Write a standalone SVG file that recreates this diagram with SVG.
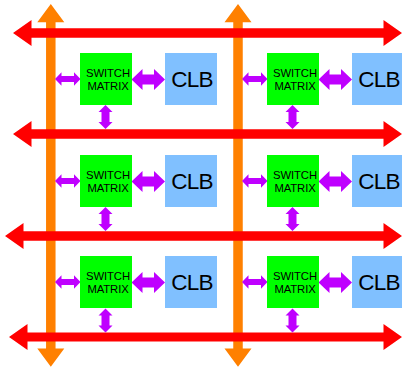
<svg xmlns="http://www.w3.org/2000/svg" xmlns:xlink="http://www.w3.org/1999/xlink" width="403" height="372" viewBox="0 0 403 372">
<style>
.vbus{fill:#ff8000}
.hbus{fill:#ff0000}
.conn{fill:#bf00ff}
.sm{fill:#00ff00}
.clb{fill:#80c0ff}
.smt{font-family:"Liberation Sans",Arial,sans-serif;font-size:11.3px;letter-spacing:-0.1px;fill:#000;text-anchor:middle}
.clbt{font-family:"Liberation Sans",Arial,sans-serif;font-size:22.5px;letter-spacing:-0.8px;fill:#000;text-anchor:middle}
</style>
<defs>
<path id="aL" d="M0,0 L6.5,-6.7 L6.5,-3 L19,-3 L19,-6.7 L25.5,0 L19,6.7 L19,3 L6.5,3 L6.5,6.7 Z"/>
<path id="aR" d="M0,0 L11,-10.5 L11,-5 L22.5,-5 L22.5,-10.5 L33.5,0 L22.5,10.5 L22.5,5 L11,5 L11,10.5 Z"/>
<path id="aV" d="M0,0 L7,7 L4,7 L4,17 L7,17 L0,24 L-7,17 L-4,17 L-4,7 L-7,7 Z"/>
</defs>
<g id="buses">
<polygon class="vbus" points="50.8,4 64.3,22.3 55.55,22.3 55.55,348.5 64.3,348.5 50.8,366.7 37.3,348.5 46.05,348.5 46.05,22.3 37.3,22.3"/>
<polygon class="vbus" points="238,4 251.5,22.3 242.75,22.3 242.75,348.5 251.5,348.5 238,366.7 224.5,348.5 233.25,348.5 233.25,22.3 224.5,22.3"/>
<polygon class="hbus" points="13,33 31.5,20 31.5,28.25 383.5,28.25 383.5,20 402,33 383.5,46 383.5,37.75 31.5,37.75 31.5,46"/>
<polygon class="hbus" points="13,134 31.5,121 31.5,129.25 383.5,129.25 383.5,121 402,134 383.5,147 383.5,138.75 31.5,138.75 31.5,147"/>
<polygon class="hbus" points="5,236 23.5,223 23.5,231.25 383.5,231.25 383.5,223 402,236 383.5,249 383.5,240.75 23.5,240.75 23.5,249"/>
<polygon class="hbus" points="9,337 27.5,324 27.5,332.5 383.5,332.5 383.5,324 402,337 383.5,350 383.5,341.5 27.5,341.5 27.5,350"/>
</g>
<g id="connectors">
<use xlink:href="#aL" class="conn" x="55" y="79"/>
<use xlink:href="#aR" class="conn" x="131.5" y="79.5"/>
<use xlink:href="#aV" class="conn" x="105.5" y="105"/>
<use xlink:href="#aL" class="conn" x="242" y="79"/>
<use xlink:href="#aR" class="conn" x="318.5" y="79.5"/>
<use xlink:href="#aV" class="conn" x="292.5" y="105"/>
<use xlink:href="#aL" class="conn" x="55" y="181"/>
<use xlink:href="#aR" class="conn" x="131.5" y="181.5"/>
<use xlink:href="#aV" class="conn" x="105.5" y="207"/>
<use xlink:href="#aL" class="conn" x="242" y="181"/>
<use xlink:href="#aR" class="conn" x="318.5" y="181.5"/>
<use xlink:href="#aV" class="conn" x="292.5" y="207"/>
<use xlink:href="#aL" class="conn" x="55" y="282"/>
<use xlink:href="#aR" class="conn" x="131.5" y="282.5"/>
<use xlink:href="#aV" class="conn" x="105.5" y="308.5"/>
<use xlink:href="#aL" class="conn" x="242" y="282"/>
<use xlink:href="#aR" class="conn" x="318.5" y="282.5"/>
<use xlink:href="#aV" class="conn" x="292.5" y="308.5"/>
</g>
<g id="sm-r1c1"><rect class="sm" x="80" y="53" width="52" height="52"/><text class="smt" x="108" y="77">SWITCH</text><text class="smt" x="108" y="89.5">MATRIX</text></g>
<g id="clb-r1c1"><rect class="clb" x="165" y="53" width="52" height="52"/><text class="clbt" x="192" y="87">CLB</text></g>
<g id="sm-r1c2"><rect class="sm" x="267" y="53" width="52" height="52"/><text class="smt" x="295" y="77">SWITCH</text><text class="smt" x="295" y="89.5">MATRIX</text></g>
<g id="clb-r1c2"><rect class="clb" x="352" y="53" width="50" height="52"/><text class="clbt" x="379" y="87">CLB</text></g>
<g id="sm-r2c1"><rect class="sm" x="80" y="155" width="52" height="52"/><text class="smt" x="108" y="179">SWITCH</text><text class="smt" x="108" y="191.5">MATRIX</text></g>
<g id="clb-r2c1"><rect class="clb" x="165" y="155" width="52" height="52"/><text class="clbt" x="192" y="189">CLB</text></g>
<g id="sm-r2c2"><rect class="sm" x="267" y="155" width="52" height="52"/><text class="smt" x="295" y="179">SWITCH</text><text class="smt" x="295" y="191.5">MATRIX</text></g>
<g id="clb-r2c2"><rect class="clb" x="352" y="155" width="50" height="52"/><text class="clbt" x="379" y="189">CLB</text></g>
<g id="sm-r3c1"><rect class="sm" x="80" y="256" width="52" height="52"/><text class="smt" x="108" y="280">SWITCH</text><text class="smt" x="108" y="292.5">MATRIX</text></g>
<g id="clb-r3c1"><rect class="clb" x="165" y="256" width="52" height="52"/><text class="clbt" x="192" y="290">CLB</text></g>
<g id="sm-r3c2"><rect class="sm" x="267" y="256" width="52" height="52"/><text class="smt" x="295" y="280">SWITCH</text><text class="smt" x="295" y="292.5">MATRIX</text></g>
<g id="clb-r3c2"><rect class="clb" x="352" y="256" width="50" height="52"/><text class="clbt" x="379" y="290">CLB</text></g>
</svg>
